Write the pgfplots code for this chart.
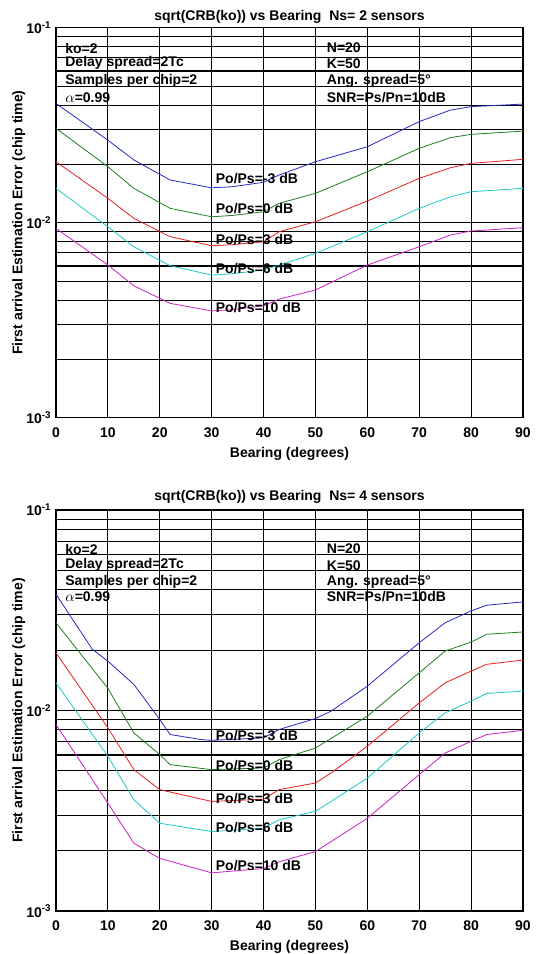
\documentclass[border=0pt]{standalone}
\usepackage{pgfplots}
\pgfplotsset{compat=1.18}
\usepackage{fontspec}
\setmainfont{Liberation Sans}
\definecolor{cB}{RGB}{40,40,200}
\definecolor{cG}{RGB}{30,128,30}
\definecolor{cR}{RGB}{230,30,30}
\definecolor{cC}{RGB}{30,200,200}
\definecolor{cM}{RGB}{200,30,200}
\newcommand{\tf}{\bfseries\fontsize{10.5}{12.6}\selectfont}
\begin{document}
\begin{tikzpicture}
\path[use as bounding box] (0,0) rectangle (402pt,715.5pt);
% ---------------- top axis ----------------
\begin{axis}[ymode=log, at={(42pt,402.2pt)}, anchor=south west, height=292.5pt,
  scale only axis, width=350.25pt,
  xmin=0, xmax=90, ymin=1e-3, ymax=1e-1,
  xtick={0,10,20,30,40,50,60,70,80,90},
  ytick={1e-3,1e-2,1e-1},
  yticklabels={{10\textsuperscript{-3}},{10\textsuperscript{-2}},{10\textsuperscript{-1}}},
  minor ytick={2e-3,3e-3,4e-3,5e-3,6e-3,7e-3,8e-3,9e-3,2e-2,3e-2,4e-2,5e-2,6e-2,7e-2,8e-2,9e-2},
  grid=both,
  major grid style={black, line width=0.8pt},
  minor grid style={black, line width=0.8pt},
  axis line style={black, line width=0.9pt},
  major tick length=0pt, minor tick length=0pt,
  tick label style={font=\tf},
  xticklabel shift=4pt,
  ylabel shift=-6pt,
  /pgf/number format/assume math mode=true,
  xlabel={Bearing (degrees)},
  ylabel={First arrival Estimation Error (chip time)},
  label style={font=\tf},
  title style={font=\tf, yshift=-6pt},
  title={sqrt(CRB(ko)) vs Bearing\ \ Ns= 2 sensors}]
\addplot[cB, line width=0.6pt, mark=none] coordinates {(0,0.0409) (10,0.0265) (15,0.0210) (22,0.01656) (30,0.01511) (34,0.0153) (40,0.01612) (43,0.01757) (50,0.02055) (60,0.02453) (70,0.0330) (76,0.0378) (80,0.0394) (90,0.0406)};
\addplot[cG, line width=0.6pt, mark=none] coordinates {(0,0.0305) (10,0.01938) (15,0.01501) (22,0.01185) (30,0.01073) (34,0.0109) (40,0.01139) (43,0.01257) (50,0.01415) (60,0.01826) (70,0.02408) (76,0.0273) (80,0.0284) (90,0.0295)};
\addplot[cR, line width=0.6pt, mark=none] coordinates {(0,0.02055) (10,0.01334) (15,0.01053) (22,0.00848) (30,0.00762) (34,0.00772) (40,0.00799) (43,0.00899) (50,0.01012) (60,0.01292) (70,0.01689) (76,0.01914) (80,0.02016) (90,0.02114)};
\addplot[cC, line width=0.6pt, mark=none] coordinates {(0,0.01501) (10,0.00954) (15,0.00753) (22,0.00602) (30,0.00539) (34,0.00548) (40,0.00572) (43,0.00607) (50,0.00697) (60,0.00899) (70,0.01185) (76,0.01359) (80,0.01442) (90,0.01501)};
\addplot[cM, line width=0.6pt, mark=none] coordinates {(0,0.00936) (10,0.00607) (15,0.00475) (22,0.00386) (30,0.00353) (34,0.00358) (40,0.00375) (43,0.00406) (50,0.00452) (60,0.00607) (70,0.00753) (76,0.00865) (80,0.00907) (90,0.00943)};
\node[anchor=west, font=\tf, inner sep=1pt] at (axis cs:30.5,0.01675) {Po/Ps=-3 dB};
\node[anchor=west, font=\tf, inner sep=1pt] at (axis cs:30.5,0.01178) {Po/Ps=0 dB};
\node[anchor=west, font=\tf, inner sep=1pt] at (axis cs:30.5,0.00819) {Po/Ps=3 dB};
\node[anchor=west, font=\tf, inner sep=1pt] at (axis cs:30.5,0.00579) {Po/Ps=6 dB};
\node[anchor=west, font=\tf, inner sep=1pt] at (axis cs:30.5,0.00368) {Po/Ps=10 dB};
\node[anchor=west, font=\tf, inner sep=1pt] at (axis cs:1.5,0.0787) {ko=2};
\node[anchor=west, font=\tf, inner sep=1pt] at (axis cs:1.5,0.0658) {Delay spread=2Tc};
\node[anchor=west, font=\tf, inner sep=1pt] at (axis cs:1.5,0.0533) {Samples per chip=2};
\node[anchor=west, font=\tf, inner sep=1pt] at (axis cs:1.5,0.0436) {$\alpha$=0.99};
\node[anchor=west, font=\tf, inner sep=1pt] at (axis cs:51.9,0.0787) {N=20};
\node[anchor=west, font=\tf, inner sep=1pt] at (axis cs:51.9,0.0658) {K=50};
\node[anchor=west, font=\tf, inner sep=1pt] at (axis cs:51.9,0.0533) {Ang. spread=5°};
\node[anchor=west, font=\tf, inner sep=1pt] at (axis cs:51.9,0.0436) {SNR=Ps/Pn=10dB};
\end{axis}
% ---------------- bottom axis ----------------
\begin{axis}[ymode=log, at={(42pt,32.25pt)}, anchor=south west, height=300.75pt,
  scale only axis, width=350.25pt,
  xmin=0, xmax=90, ymin=1e-3, ymax=1e-1,
  xtick={0,10,20,30,40,50,60,70,80,90},
  ytick={1e-3,1e-2,1e-1},
  yticklabels={{10\textsuperscript{-3}},{10\textsuperscript{-2}},{10\textsuperscript{-1}}},
  minor ytick={2e-3,3e-3,4e-3,5e-3,6e-3,7e-3,8e-3,9e-3,2e-2,3e-2,4e-2,5e-2,6e-2,7e-2,8e-2,9e-2},
  grid=both,
  major grid style={black, line width=0.8pt},
  minor grid style={black, line width=0.8pt},
  axis line style={black, line width=0.9pt},
  major tick length=0pt, minor tick length=0pt,
  tick label style={font=\tf},
  xticklabel shift=4pt,
  ylabel shift=-6pt,
  /pgf/number format/assume math mode=true,
  xlabel={Bearing (degrees)},
  ylabel={First arrival Estimation Error (chip time)},
  label style={font=\tf},
  title style={font=\tf, yshift=-5pt},
  title={sqrt(CRB(ko)) vs Bearing\ \ Ns= 4 sensors}]
\addplot[cB, line width=0.6pt, mark=none] coordinates {(0,0.0380) (7,0.0202) (10,0.01764) (15,0.01349) (20,0.00902) (22,0.00759) (28,0.00716) (30,0.0071) (40,0.0073) (43,0.00804) (50,0.00912) (53,0.00992) (60,0.01323) (70,0.02178) (75,0.0274) (80,0.0314) (83,0.0335) (90,0.0348)};
\addplot[cG, line width=0.6pt, mark=none] coordinates {(0,0.0274) (10,0.0129) (15,0.00773) (20,0.00603) (22,0.00537) (30,0.00507) (40,0.00517) (43,0.00569) (50,0.0065) (60,0.00937) (70,0.01542) (75,0.0198) (80,0.02195) (83,0.0240) (90,0.02464)};
\addplot[cR, line width=0.6pt, mark=none] coordinates {(0,0.0194) (10,0.00819) (15,0.00507) (20,0.00403) (30,0.00352) (40,0.00361) (43,0.00403) (50,0.00435) (53,0.00488) (60,0.00663) (70,0.01091) (75,0.01374) (80,0.01572) (83,0.0170) (90,0.01784)};
\addplot[cC, line width=0.6pt, mark=none] coordinates {(0,0.01373) (10,0.00591) (15,0.00359) (20,0.00274) (30,0.00249) (40,0.00259) (43,0.00285) (50,0.00314) (60,0.0046) (70,0.00773) (75,0.00973) (80,0.01113) (83,0.01216) (90,0.01249)};
\addplot[cM, line width=0.6pt, mark=none] coordinates {(0,0.00851) (10,0.00345) (15,0.00218) (20,0.00183) (30,0.00155) (40,0.00163) (43,0.00176) (50,0.00198) (60,0.0029) (70,0.00479) (75,0.00614) (80,0.00702) (83,0.00759) (90,0.00797)};
\node[anchor=west, font=\tf, inner sep=1pt] at (axis cs:30.5,0.00746) {Po/Ps=-3 dB};
\node[anchor=west, font=\tf, inner sep=1pt] at (axis cs:30.5,0.0053) {Po/Ps=0 dB};
\node[anchor=west, font=\tf, inner sep=1pt] at (axis cs:30.5,0.00364) {Po/Ps=3 dB};
\node[anchor=west, font=\tf, inner sep=1pt] at (axis cs:30.5,0.00261) {Po/Ps=6 dB};
\node[anchor=west, font=\tf, inner sep=1pt] at (axis cs:30.5,0.00169) {Po/Ps=10 dB};
\node[anchor=west, font=\tf, inner sep=1pt] at (axis cs:1.5,0.0638) {ko=2};
\node[anchor=west, font=\tf, inner sep=1pt] at (axis cs:1.5,0.0530) {Delay spread=2Tc};
\node[anchor=west, font=\tf, inner sep=1pt] at (axis cs:1.5,0.0436) {Samples per chip=2};
\node[anchor=west, font=\tf, inner sep=1pt] at (axis cs:1.5,0.0368) {$\alpha$=0.99};
\node[anchor=west, font=\tf, inner sep=1pt] at (axis cs:51.9,0.0638) {N=20};
\node[anchor=west, font=\tf, inner sep=1pt] at (axis cs:51.9,0.0530) {K=50};
\node[anchor=west, font=\tf, inner sep=1pt] at (axis cs:51.9,0.0436) {Ang. spread=5°};
\node[anchor=west, font=\tf, inner sep=1pt] at (axis cs:51.9,0.0368) {SNR=Ps/Pn=10dB};
\end{axis}
\end{tikzpicture}
\end{document}
